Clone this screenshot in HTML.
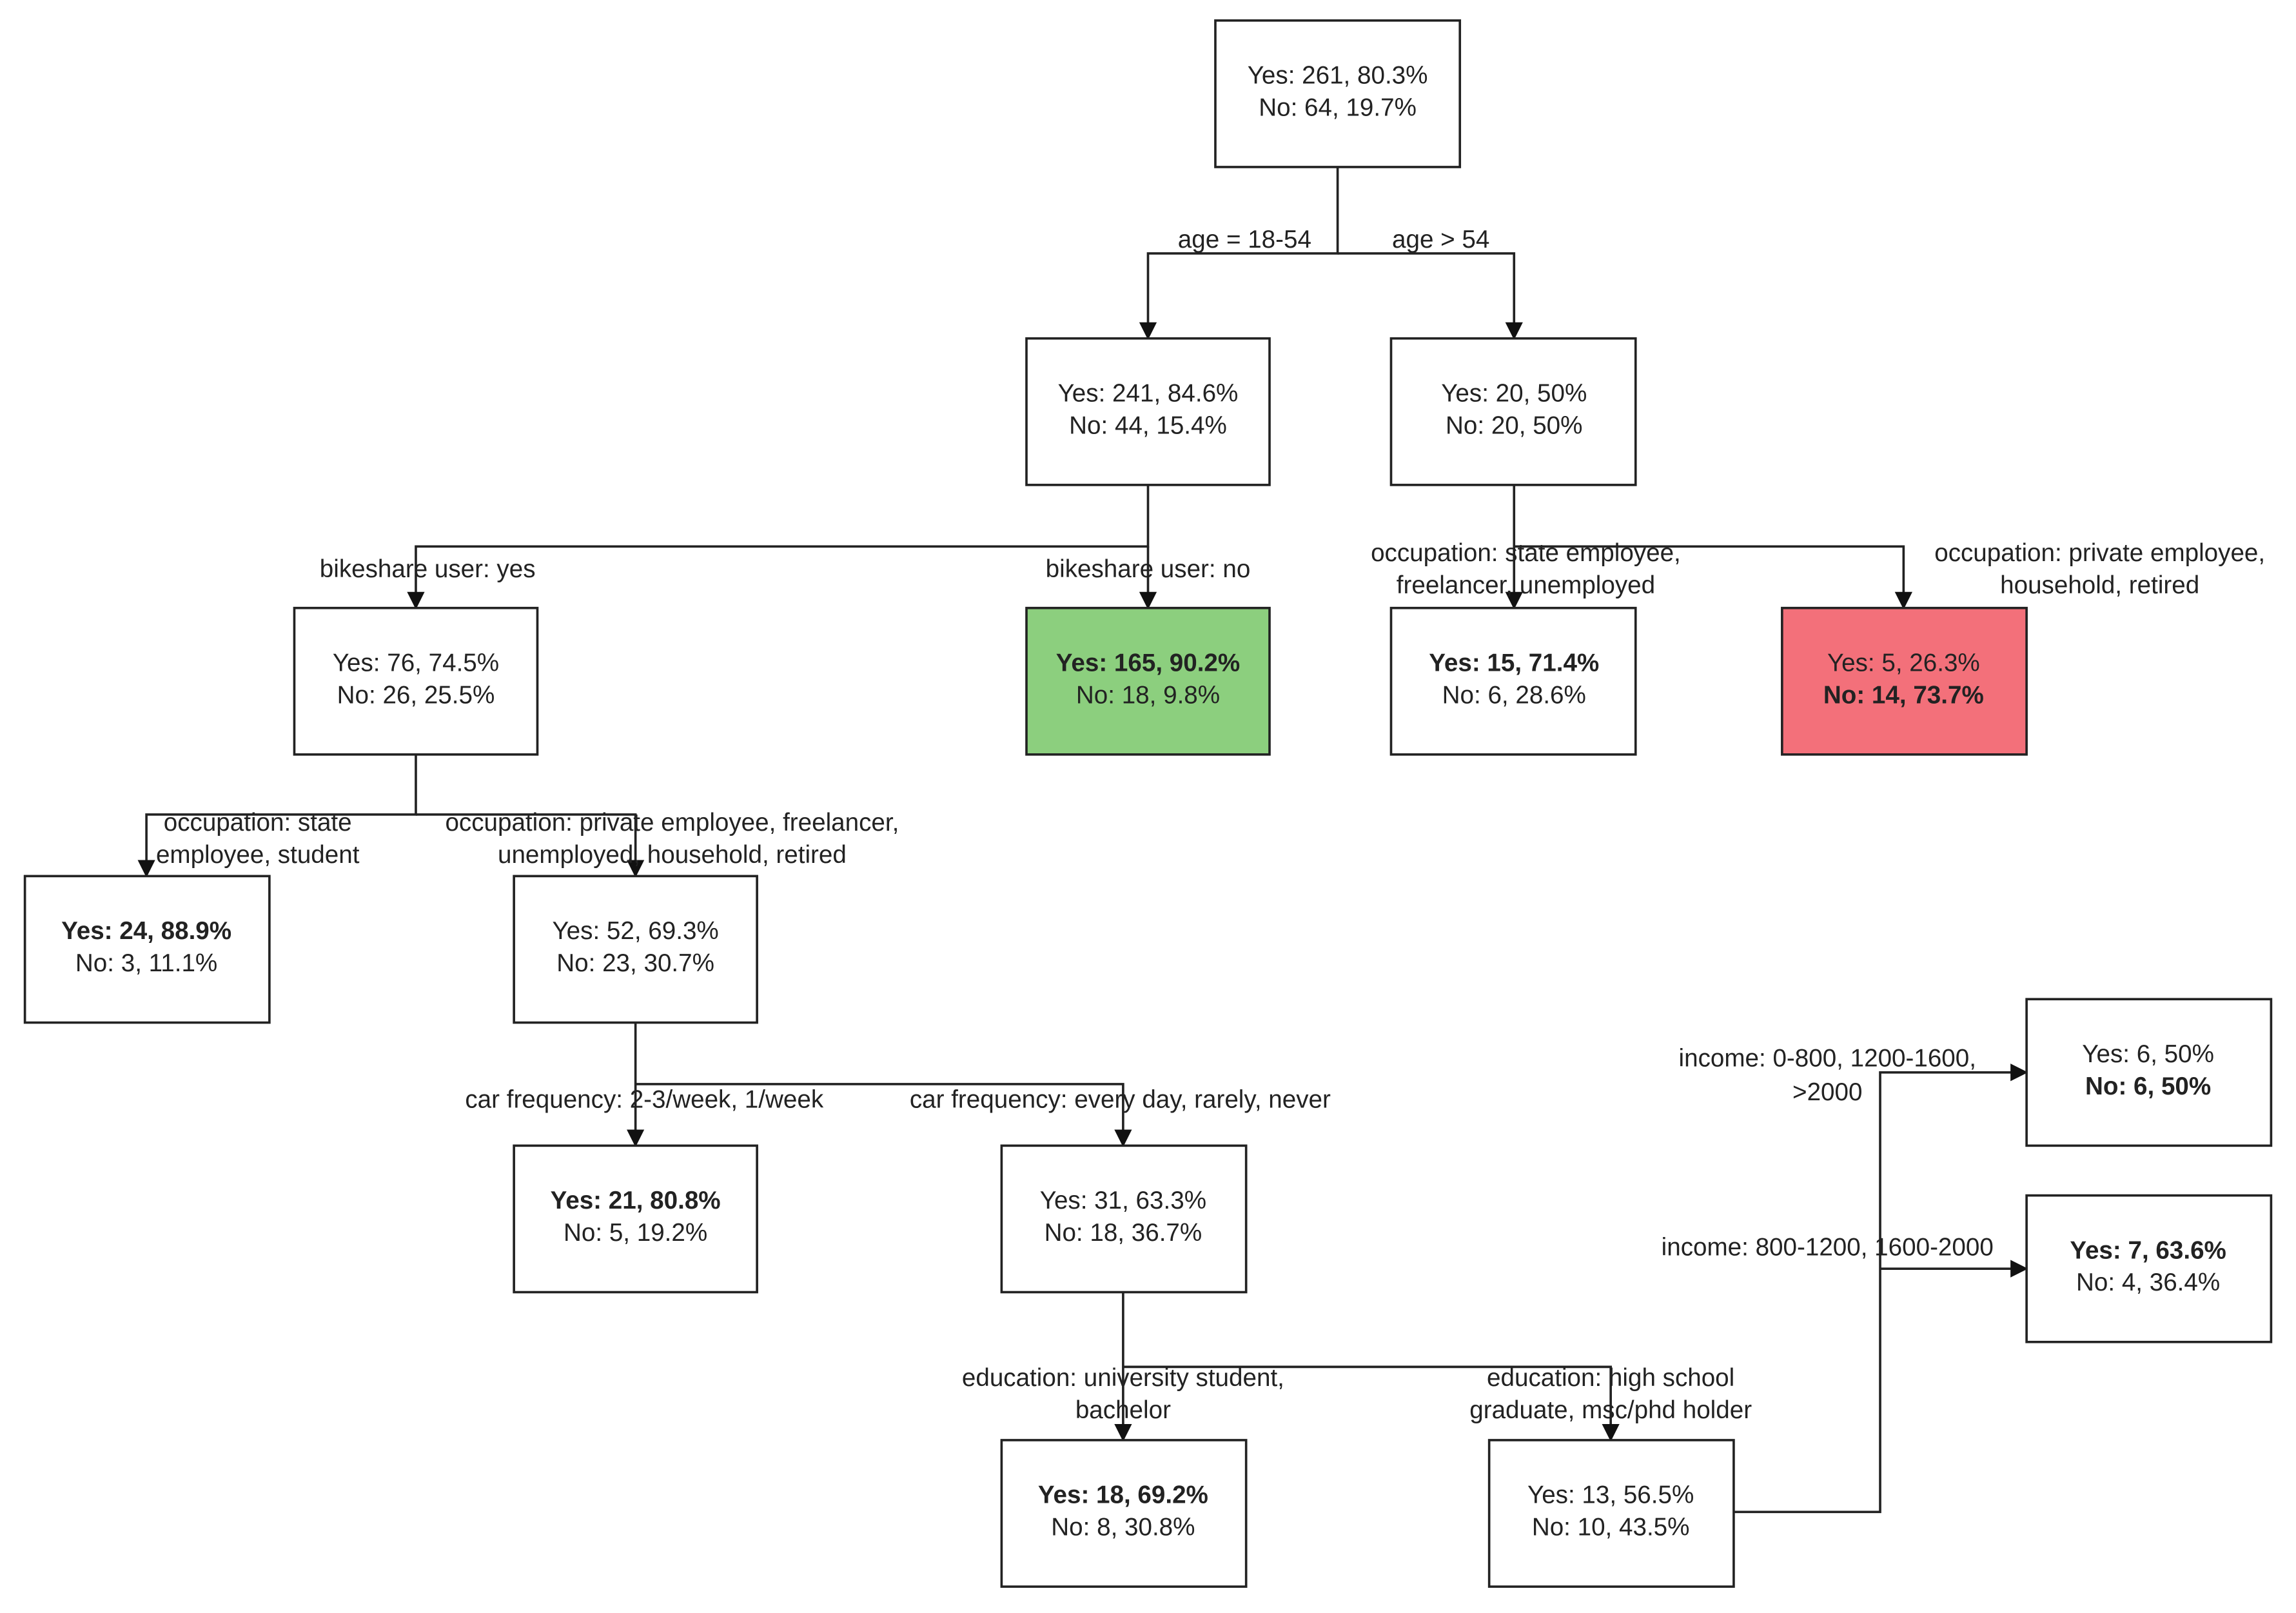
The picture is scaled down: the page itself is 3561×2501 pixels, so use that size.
<!DOCTYPE html>
<html><head><meta charset="utf-8"><style>
html,body{margin:0;padding:0;background:#fff;}
svg{display:block;}
text{font-family:"Liberation Sans",Arial,sans-serif;font-size:17px;fill:#222;text-anchor:middle;}
.b{font-weight:bold;}
rect{stroke:#222;stroke-width:1.6;fill:#fff;}
.l{stroke:#222;stroke-width:1.6;fill:none;}
</style></head><body>
<svg width="3561" height="2501" viewBox="0 0 1568 1101" preserveAspectRatio="none" xmlns="http://www.w3.org/2000/svg">
<defs><marker id="a" markerWidth="12" markerHeight="14" refX="10" refY="6" orient="auto" markerUnits="userSpaceOnUse"><path d="M0,0 L12,6 L0,12 z" fill="#111"/></marker></defs>
<!-- connectors -->
<path class="l" d="M913.5,114 V173 H784 V230" marker-end="url(#a)"/>
<path class="l" d="M913.5,173 H1034 V230" marker-end="url(#a)"/>
<path class="l" d="M784,331 V373 H284 V414" marker-end="url(#a)"/>
<path class="l" d="M784,373 V414" marker-end="url(#a)"/>
<path class="l" d="M1034,331 V373 V414" marker-end="url(#a)"/>
<path class="l" d="M1034,373 H1300 V414" marker-end="url(#a)"/>
<path class="l" d="M284,515 V556 H100 V597" marker-end="url(#a)"/>
<path class="l" d="M284,556 H434 V597" marker-end="url(#a)"/>
<path class="l" d="M434,698 V781" marker-end="url(#a)"/>
<path class="l" d="M434,740 H767 V781" marker-end="url(#a)"/>
<path class="l" d="M767,882 V982" marker-end="url(#a)"/>
<path class="l" d="M767,933 H1100 V982" marker-end="url(#a)"/>
<path class="l" d="M1184,1032 H1284 V732 H1383" marker-end="url(#a)"/>
<path class="l" d="M1284,866 H1383" marker-end="url(#a)"/>
<!-- boxes -->
<rect x="830" y="14" width="167" height="100"/>
<text x="913.5" y="57">Yes: 261, 80.3%</text><text x="913.5" y="79">No: 64, 19.7%</text>
<rect x="701" y="231" width="166" height="100"/>
<text x="784" y="274">Yes: 241, 84.6%</text><text x="784" y="296">No: 44, 15.4%</text>
<rect x="950" y="231" width="167" height="100"/>
<text x="1034" y="274">Yes: 20, 50%</text><text x="1034" y="296">No: 20, 50%</text>
<rect x="201" y="415" width="166" height="100"/>
<text x="284" y="458">Yes: 76, 74.5%</text><text x="284" y="480">No: 26, 25.5%</text>
<rect x="701" y="415" width="166" height="100" style="fill:#8ccf7e"/>
<text x="784" y="458" class="b">Yes: 165, 90.2%</text><text x="784" y="480">No: 18, 9.8%</text>
<rect x="950" y="415" width="167" height="100"/>
<text x="1034" y="458" class="b">Yes: 15, 71.4%</text><text x="1034" y="480">No: 6, 28.6%</text>
<rect x="1217" y="415" width="167" height="100" style="fill:#f3707a"/>
<text x="1300" y="458">Yes: 5, 26.3%</text><text x="1300" y="480" class="b">No: 14, 73.7%</text>
<rect x="17" y="598" width="167" height="100"/>
<text x="100" y="641" class="b">Yes: 24, 88.9%</text><text x="100" y="663">No: 3, 11.1%</text>
<rect x="351" y="598" width="166" height="100"/>
<text x="434" y="641">Yes: 52, 69.3%</text><text x="434" y="663">No: 23, 30.7%</text>
<rect x="351" y="782" width="166" height="100"/>
<text x="434" y="825" class="b">Yes: 21, 80.8%</text><text x="434" y="847">No: 5, 19.2%</text>
<rect x="684" y="782" width="167" height="100"/>
<text x="767" y="825">Yes: 31, 63.3%</text><text x="767" y="847">No: 18, 36.7%</text>
<rect x="684" y="983" width="167" height="100"/>
<text x="767" y="1026" class="b">Yes: 18, 69.2%</text><text x="767" y="1048">No: 8, 30.8%</text>
<rect x="1017" y="983" width="167" height="100"/>
<text x="1100" y="1026">Yes: 13, 56.5%</text><text x="1100" y="1048">No: 10, 43.5%</text>
<rect x="1384" y="682" width="167" height="100"/>
<text x="1467" y="725">Yes: 6, 50%</text><text x="1467" y="747" class="b">No: 6, 50%</text>
<rect x="1384" y="816" width="167" height="100"/>
<text x="1467" y="859" class="b">Yes: 7, 63.6%</text><text x="1467" y="881">No: 4, 36.4%</text>
<!-- labels -->
<text x="850" y="169">age = 18-54</text>
<text x="984" y="169">age &gt; 54</text>
<text x="292" y="394">bikeshare user: yes</text>
<text x="784" y="394">bikeshare user: no</text>
<text x="1042" y="383">occupation: state employee,</text><text x="1042" y="405">freelancer, unemployed</text>
<text x="1434" y="383">occupation: private employee,</text><text x="1434" y="405">household, retired</text>
<text x="176" y="567">occupation: state</text><text x="176" y="589">employee, student</text>
<text x="459" y="567">occupation: private employee, freelancer,</text><text x="459" y="589">unemployed, household, retired</text>
<text x="440" y="756">car frequency: 2-3/week, 1/week</text>
<text x="765" y="756">car frequency: every day, rarely, never</text>
<text x="767" y="946">education: university student,</text><text x="767" y="968">bachelor</text>
<text x="1100" y="946">education: high school</text><text x="1100" y="968">graduate, msc/phd holder</text>
<text x="1248" y="728">income: 0-800, 1200-1600,</text><text x="1248" y="751">&gt;2000</text>
<text x="1248" y="857">income: 800-1200, 1600-2000</text>
</svg>
</body></html>
